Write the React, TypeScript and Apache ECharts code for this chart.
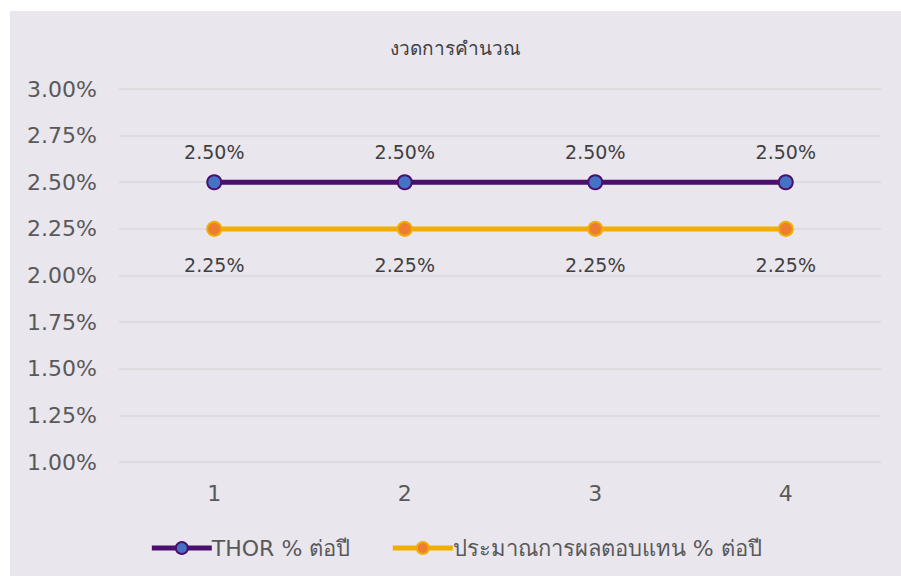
import React, { useEffect, useRef } from "react";
import * as echarts from "echarts";

const categories = ["1", "2", "3", "4"];
const thorValues = [0.025, 0.025, 0.025, 0.025];
const estValues = [0.0225, 0.0225, 0.0225, 0.0225];
const seriesNames = ["THOR % ต่อปี", "ประมาณการผลตอบแทน % ต่อปี"];
const titleText = "งวดการคำนวณ";

const FONT = "'DejaVu Sans', 'Noto Sans', sans-serif";
const pct = (v: number) => (v * 100).toFixed(2) + "%";

export default function App() {
  const ref = useRef<HTMLDivElement>(null);
  useEffect(() => {
    if (!ref.current) return;
    const chart = echarts.init(ref.current, undefined, { renderer: "svg" });
    chart.setOption({
      animation: false,
      backgroundColor: "#E9E6EE",
      title: {
        text: titleText,
        left: "center",
        top: 22,
        textStyle: { fontFamily: FONT, fontSize: 19, fontWeight: "normal", color: "#404040" },
      },
      grid: { left: 109, right: 20, top: 78, bottom: 114, containLabel: false },
      legend: {
        bottom: 12,
        left: "center",
        itemWidth: 60,
        itemHeight: 15,
        itemGap: 40,
        textStyle: { fontFamily: FONT, fontSize: 22, color: "#595959", padding: [0, 0, 0, -5] },
        lineStyle: { width: 5 },
        data: seriesNames,
      },
      xAxis: {
        type: "category",
        data: categories,
        boundaryGap: true,
        axisLine: { show: false },
        axisTick: { show: false },
        axisLabel: { fontFamily: FONT, fontSize: 22, color: "#595959", margin: 20 },
      },
      yAxis: {
        type: "value",
        min: 0.01,
        max: 0.03,
        interval: 0.0025,
        axisLine: { show: false },
        axisTick: { show: false },
        axisLabel: { fontFamily: FONT, fontSize: 22, color: "#595959", margin: 22, formatter: (v: number) => pct(v) },
        splitLine: { lineStyle: { color: "#D9D9D9", width: 1.5 } },
      },
      series: [
        {
          name: seriesNames[0],
          type: "line",
          data: thorValues,
          symbol: "circle",
          symbolSize: 14,
          lineStyle: { color: "#4B0F6E", width: 5 },
          itemStyle: { color: "#4472C4", borderColor: "#4B0F6E", borderWidth: 2 },
          label: {
            show: true,
            position: "top",
            distance: 13,
            fontFamily: FONT,
            fontSize: 19,
            color: "#404040",
            formatter: (p: any) => pct(p.value),
          },
        },
        {
          name: seriesNames[1],
          type: "line",
          data: estValues,
          symbol: "circle",
          symbolSize: 14,
          lineStyle: { color: "#EFAE00", width: 5 },
          itemStyle: { color: "#ED7D31", borderColor: "#EFAE00", borderWidth: 2 },
          label: {
            show: true,
            position: "bottom",
            distance: 19,
            fontFamily: FONT,
            fontSize: 19,
            color: "#404040",
            formatter: (p: any) => pct(p.value),
          },
        },
      ],
    });
    return () => chart.dispose();
  }, []);
  return (
    <div
      ref={ref}
      style={{ position: "absolute", left: 10, top: 11, width: 891, height: 565 }}
    />
  );
}
